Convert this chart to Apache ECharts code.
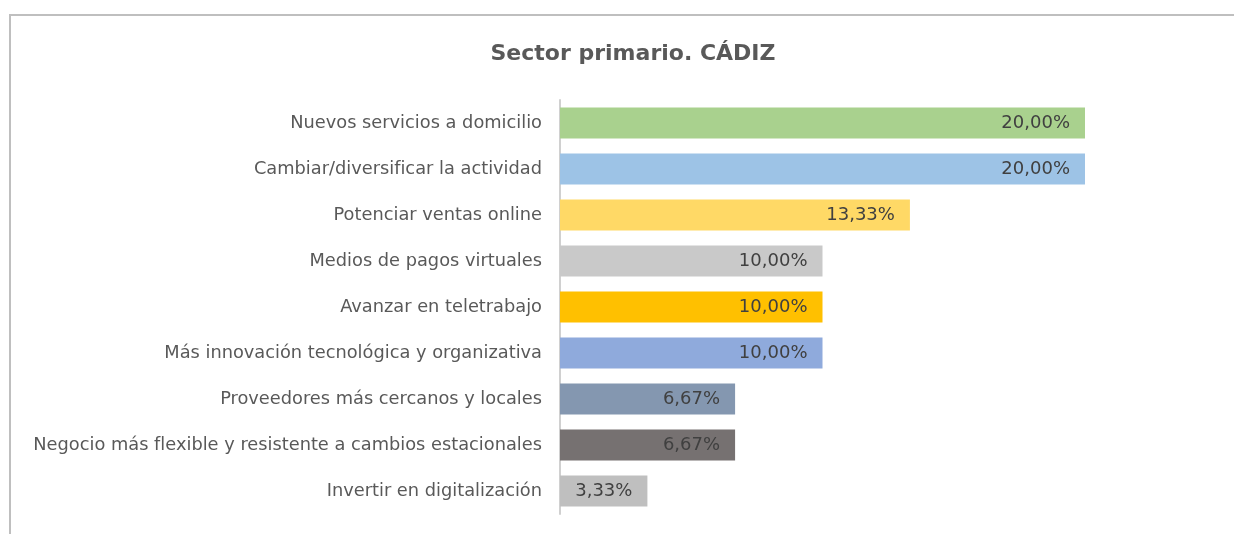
<!DOCTYPE html>
<html lang="es">
<head>
    <meta charset="UTF-8">
    <title>Sector primario. CÁDIZ</title>
    <script src="https://cdn.jsdelivr.net/npm/echarts@6/dist/echarts.min.js"></script>
    <style>
        *{
            padding:0;
            margin:0;
        }
        html,body{
            width:1234px;
            height:534px;
            background:#fff;
            overflow:hidden;
        }
        #frame{
            position:absolute;
            left:9px;
            top:14px;
            width:1225px;
            height:520px;
            border-left:2px solid #bfbfbf;
            border-top:2px solid #bfbfbf;
        }
        #main{
            position:absolute;
            left:0;
            top:0;
            width:1234px;
            height:534px;
        }
    </style>
</head>
<body>
<div id="frame"></div>
<div id="main"></div>
<script>
    // categorías (de arriba a abajo) y porcentajes
    var categorias = [
        'Nuevos servicios a domicilio',
        'Cambiar/diversificar la actividad',
        'Potenciar ventas online',
        'Medios de pagos virtuales',
        'Avanzar en teletrabajo',
        'Más innovación tecnológica y organizativa',
        'Proveedores más cercanos y locales',
        'Negocio más flexible y resistente a cambios estacionales',
        'Invertir en digitalización'
    ];
    var valores = [20.00, 20.00, 13.33, 10.00, 10.00, 10.00, 6.67, 6.67, 3.33];
    var colores = ['#A9D18E', '#9DC3E6', '#FFD966', '#C9C9C9', '#FFC000', '#8FAADC', '#8497B0', '#767171', '#BFBFBF'];

    var fuente = '"DejaVu Sans", sans-serif';

    var myChart = echarts.init(document.getElementById('main'));
    var datos = valores.map(function (v, i) {
        return {value: v, itemStyle: {color: colores[i]}};
    });

    var option = {
        animation: false,
        title: {
            text: 'Sector primario. CÁDIZ',
            left: 628,
            textAlign: 'center',
            top: 38,
            textStyle: {
                color: '#595959',
                fontSize: 22,
                fontWeight: 'bold',
                fontFamily: fuente
            }
        },
        grid: {
            left: 560,
            right: 149,
            top: 100,
            bottom: 20,
            containLabel: false
        },
        xAxis: {
            type: 'value',
            min: 0,
            max: 20,
            show: false
        },
        yAxis: {
            type: 'category',
            inverse: true,
            data: categorias,
            axisLine: {
                lineStyle: {color: '#d0d0d0', width: 2}
            },
            axisTick: {show: false},
            axisLabel: {
                color: '#595959',
                fontSize: 17.8,
                fontFamily: fuente,
                margin: 18
            }
        },
        series: [{
            type: 'bar',
            data: datos,
            barCategoryGap: '33%',
            label: {
                show: true,
                position: 'insideRight',
                distance: 15,
                color: '#404040',
                fontSize: 18,
                fontFamily: fuente,
                formatter: function (p) {
                    return p.value.toFixed(2).replace('.', ',') + '%';
                }
            }
        }]
    };
    myChart.setOption(option);
</script>
</body>
</html>
